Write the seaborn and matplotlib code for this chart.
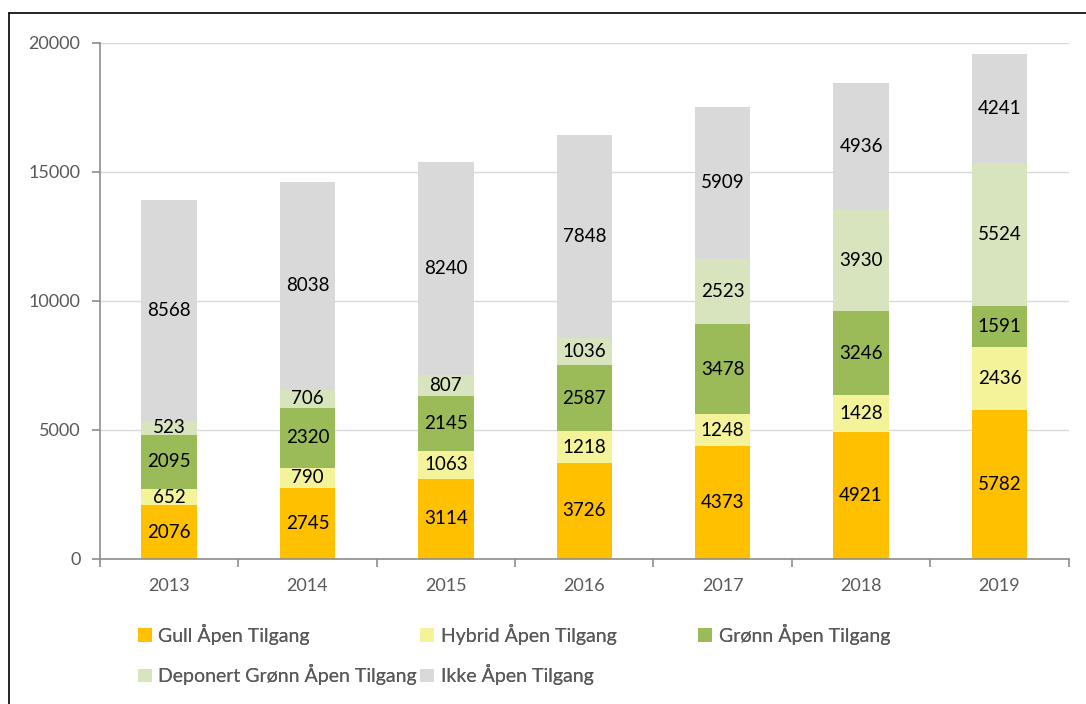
import numpy as np
import pandas as pd
import matplotlib.pyplot as plt
import seaborn as sns
from matplotlib.patches import Patch
from matplotlib.lines import Line2D

# Data (articles per year by open access category)
years = ["2013", "2014", "2015", "2016", "2017", "2018", "2019"]
gull = [2076, 2745, 3114, 3726, 4373, 4921, 5782]
hybrid = [652, 790, 1063, 1218, 1248, 1428, 2436]
gronn = [2095, 2320, 2145, 2587, 3478, 3246, 1591]
deponert = [523, 706, 807, 1036, 2523, 3930, 5524]
ikke = [8568, 8038, 8240, 7848, 5909, 4936, 4241]

series = [
    "Gull Åpen Tilgang",
    "Hybrid Åpen Tilgang",
    "Grønn Åpen Tilgang",
    "Deponert Grønn Åpen Tilgang",
    "Ikke Åpen Tilgang",
]
colors = ["#FFC000", "#F5F39A", "#9BBB59", "#D7E4BD", "#D9D9D9"]

sns.set_theme(style="white")
plt.rcParams["font.family"] = ["Lato", "DejaVu Sans"]

df = pd.DataFrame(
    {
        "year": years,
        series[0]: gull,
        series[1]: hybrid,
        series[2]: gronn,
        series[3]: deponert,
        series[4]: ikke,
    }
)
cum = df[series].cumsum(axis=1)

fig = plt.figure(figsize=(10.86, 7.04), dpi=100)
ax = fig.add_axes([0.092, 0.206, 0.892, 0.733])

# Stacked bars: draw cumulative totals from the top down
for name, color in reversed(list(zip(series, colors))):
    sns.barplot(
        x=df["year"], y=cum[name], color=color, saturation=1,
        width=0.4, linewidth=0, ax=ax, zorder=2,
    )

# Segment labels
for name in series:
    bottoms = cum[name] - df[name]
    for i, v in enumerate(df[name]):
        ax.text(i, bottoms[i] + v / 2, str(v), ha="center", va="center",
                fontsize=13.5, color="black", zorder=3)

axis_grey = "#8C8C8C"
text_grey = "#595959"
ax.set_ylim(0, 20000)
ax.set_xlim(-0.5, len(years) - 0.5)
ax.set_yticks(np.arange(0, 20001, 5000))
ax.yaxis.grid(True, color="#D9D9D9", lw=1)
ax.set_axisbelow(True)
ax.set_xlabel("")
ax.set_ylabel("")
for side in ["top", "right"]:
    ax.spines[side].set_visible(False)
for side in ["left", "bottom"]:
    ax.spines[side].set_color(axis_grey)
    ax.spines[side].set_linewidth(1.2)

ax.set_xticks(np.arange(-0.5, len(years)), minor=True)
ax.tick_params(axis="x", which="major", length=0, pad=14, labelsize=13, labelcolor=text_grey)
ax.tick_params(axis="x", which="minor", length=6, width=1.2, color=axis_grey, direction="out")
ax.tick_params(axis="y", length=6, width=1.2, color=axis_grey, direction="out",
               pad=8, labelsize=13, labelcolor=text_grey)
ax.xaxis.set_tick_params(bottom=True, which="both")
ax.yaxis.set_tick_params(left=True)

# Legend laid out in three columns, row-wise like the original
cols = [(0.127, [0, 3]), (0.387, [1, 4]), (0.643, [2])]
for x0, idx in cols:
    handles = [Patch(facecolor=colors[k], edgecolor="none") for k in idx]
    labels = [series[k] for k in idx]
    leg = fig.legend(
        handles, labels, loc="upper left", bbox_to_anchor=(x0, 0.114),
        frameon=False, fontsize=14, labelcolor=text_grey,
        handlelength=0.7, handleheight=0.7, handletextpad=0.35,
        labelspacing=1.0, borderpad=0, borderaxespad=0,
    )
    fig.add_artist(leg)

# Outer border (left and top visible)
fig.add_artist(Line2D([9 / 1086, 9 / 1086], [0, 1 - 13 / 704],
                      transform=fig.transFigure, color="black", lw=1.2))
fig.add_artist(Line2D([9 / 1086, 1], [1 - 13 / 704, 1 - 13 / 704],
                      transform=fig.transFigure, color="black", lw=1.2))

fig.savefig("out.png", dpi=100)
